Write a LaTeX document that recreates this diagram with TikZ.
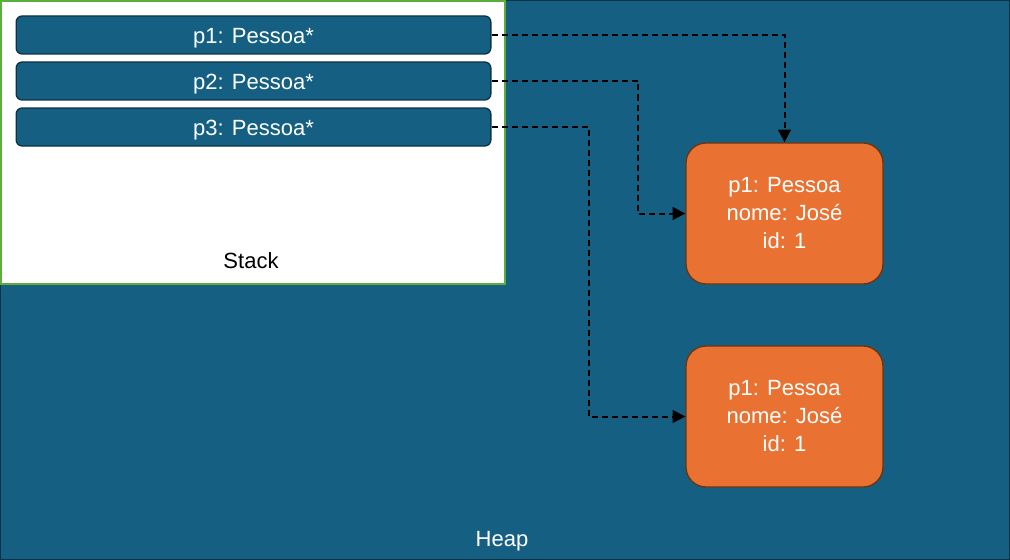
\documentclass[tikz,border=0pt]{standalone}
\usepackage{fontspec}
\setmainfont{Liberation Sans}
\usetikzlibrary{arrows.meta}

\definecolor{heapblue}{HTML}{156082}
\definecolor{heapline}{HTML}{0C3346}
\definecolor{stackgreen}{HTML}{5BAE3A}
\definecolor{objorange}{HTML}{E97132}
\definecolor{objline}{HTML}{6E3410}

\tikzset{
	ptr/.style={draw=heapline, fill=heapblue, text=white, rounded corners=4.5pt,
		minimum width=356pt, minimum height=28.5pt, inner sep=0pt, line width=1pt,
		text height=13.5pt, text depth=1pt},
	obj/.style={draw=objline, fill=objorange, text=white, rounded corners=15pt,
		minimum width=147.75pt, minimum height=105.75pt, inner sep=0pt, line width=1pt,
		align=center},
	ref/.style={dash pattern=on 4.5pt off 3pt, line width=1.5pt,
		-{Triangle[length=9.5pt, width=9.5pt]}}
}

\begin{document}
\begin{tikzpicture}[x=0.75pt, y=-0.75pt, font=\fontsize{16.5pt}{21pt}\selectfont]
		\useasboundingbox (0, 0) rectangle (1010, 560);
		\fill[heapblue] (0, 0) rectangle (1010, 560);
		\draw[heapline, line width=1.2pt] (0.5, 0.5) rectangle (1009.5, 559.5);
		\draw[stackgreen, fill=white, line width=2pt] (1, 1) rectangle (505, 284);

		\node[text=white] (Heap) at (502, 541) {Heap};
		\node (Stack) at (251, 261) {Stack};

		\node[ptr] (P1) at (253.5, 35) {p1: Pessoa*};
		\node[ptr] (P2) at (253.5, 81) {p2: Pessoa*};
		\node[ptr] (P3) at (253.5, 127) {p3: Pessoa*};

		\node[obj] (O1) at (784.5, 213.5) {p1: Pessoa\\nome: José\\id: 1};
		\node[obj] (O2) at (784.5, 416.5) {p1: Pessoa\\nome: José\\id: 1};

		\draw[ref] (P1.east) -| (O1.north);
		\draw[ref] (P2.east) -- (638, 81) |- (O1.west);
		\draw[ref] (P3.east) -- (589, 127) |- (O2.west);

	\end{tikzpicture}
\end{document}
